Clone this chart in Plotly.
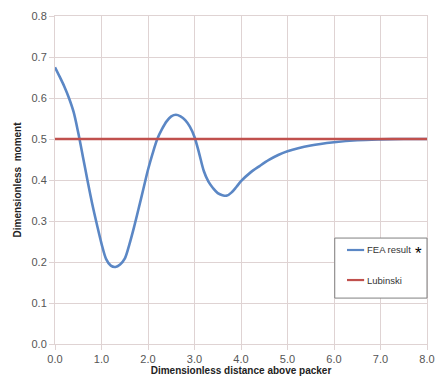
import plotly.graph_objects as go

fea_x = [0.0, 0.1, 0.2, 0.3, 0.4, 0.5, 0.6, 0.7, 0.8, 0.9, 1.0, 1.1, 1.2, 1.3, 1.4, 1.5,
         1.6, 1.7, 1.8, 1.9, 2.0, 2.1, 2.2, 2.3, 2.4, 2.5, 2.6, 2.7, 2.8, 2.9, 3.0, 3.1,
         3.2, 3.3, 3.4, 3.5, 3.6, 3.7, 3.8, 3.9, 4.0, 4.2, 4.4, 4.6, 4.8, 5.0, 5.5, 6.0,
         6.5, 7.0, 7.5, 8.0]
fea_y = [0.675, 0.652, 0.628, 0.600, 0.566, 0.515, 0.457, 0.398, 0.342, 0.292, 0.245,
         0.207, 0.191, 0.188, 0.194, 0.208, 0.243, 0.285, 0.331, 0.378, 0.425, 0.465,
         0.500, 0.524, 0.543, 0.555, 0.559, 0.555, 0.546, 0.530, 0.505, 0.465, 0.422,
         0.396, 0.380, 0.368, 0.363, 0.362, 0.370, 0.383, 0.397, 0.418, 0.434, 0.449,
         0.461, 0.470, 0.484, 0.492, 0.497, 0.499, 0.500, 0.500]
lub_x = [0.0, 8.0]
lub_y = [0.5, 0.5]

x_ticks = [0, 1, 2, 3, 4, 5, 6, 7, 8]
y_ticks = [0.0, 0.1, 0.2, 0.3, 0.4, 0.5, 0.6, 0.7, 0.8]
legend_names = ["FEA result", "Lubinski"]
colors = ["#5b87c5", "#c0504d"]

grid = "#dfd3d3"
font = "Liberation Sans, Arial, sans-serif"

fig = go.Figure()
fig.add_trace(go.Scatter(x=fea_x, y=fea_y, mode="lines", name=legend_names[0],
                         line=dict(color=colors[0], width=2.6, shape="spline", smoothing=0.9)))
fig.add_trace(go.Scatter(x=lub_x, y=lub_y, mode="lines", name=legend_names[1],
                         line=dict(color=colors[1], width=2.6)))

# hand-made legend box (paper coordinates)
shapes = [dict(type="rect", xref="paper", yref="paper", x0=0.752, x1=1.0, y0=0.140, y1=0.323,
               line=dict(color="#808080", width=1), fillcolor="white", layer="above")]
annotations = []
for i, (nm, c, yy) in enumerate(zip(legend_names, colors, [0.2866, 0.195])):
    shapes.append(dict(type="line", xref="paper", yref="paper", x0=0.785, x1=0.831,
                       y0=yy, y1=yy, line=dict(color=c, width=2.2), layer="above"))
    annotations.append(dict(text=nm, x=0.833, y=yy, xref="paper", yref="paper",
                            xanchor="left", yanchor="middle", showarrow=False,
                            font=dict(size=9.5, color="#333333")))
annotations.append(dict(text="*", x=0.977, y=0.24, xref="paper", yref="paper",
                        xanchor="center", showarrow=False,
                        font=dict(size=17, color="#000000")))

fig.update_layout(
    width=437, height=383,
    margin=dict(l=55, r=10, t=16, b=39, autoexpand=False),
    paper_bgcolor="white", plot_bgcolor="white",
    font=dict(family=font, size=10, color="#555555"),
    showlegend=False,
    shapes=shapes,
    annotations=annotations,
)
fig.update_xaxes(range=[0, 8], tickvals=x_ticks, tickformat=".1f",
                 showgrid=True, gridcolor=grid, gridwidth=1,
                 zeroline=False, showline=True, linecolor=grid, mirror=True,
                 ticks="outside", ticklen=5, tickcolor=grid,
                 ticklabeloverflow="allow",
                 tickfont=dict(size=11, color="#555555"),
                 title=dict(text="<b>Dimensionless distance above packer</b>", standoff=2,
                            font=dict(size=10, color="#222222")))
fig.update_yaxes(range=[0, 0.8], tickvals=y_ticks, tickformat=".1f",
                 showgrid=True, gridcolor=grid, gridwidth=1,
                 zeroline=False, showline=True, linecolor=grid, mirror=True,
                 ticks="outside", ticklen=5, tickcolor=grid,
                 ticklabeloverflow="allow",
                 tickfont=dict(size=11, color="#555555"),
                 title=dict(text="<b>Dimensionless  moment</b>", standoff=8,
                            font=dict(size=10, color="#222222")))

fig.write_html("out.html", config={"displayModeBar": False},
               post_script="document.body.style.margin='0';")
